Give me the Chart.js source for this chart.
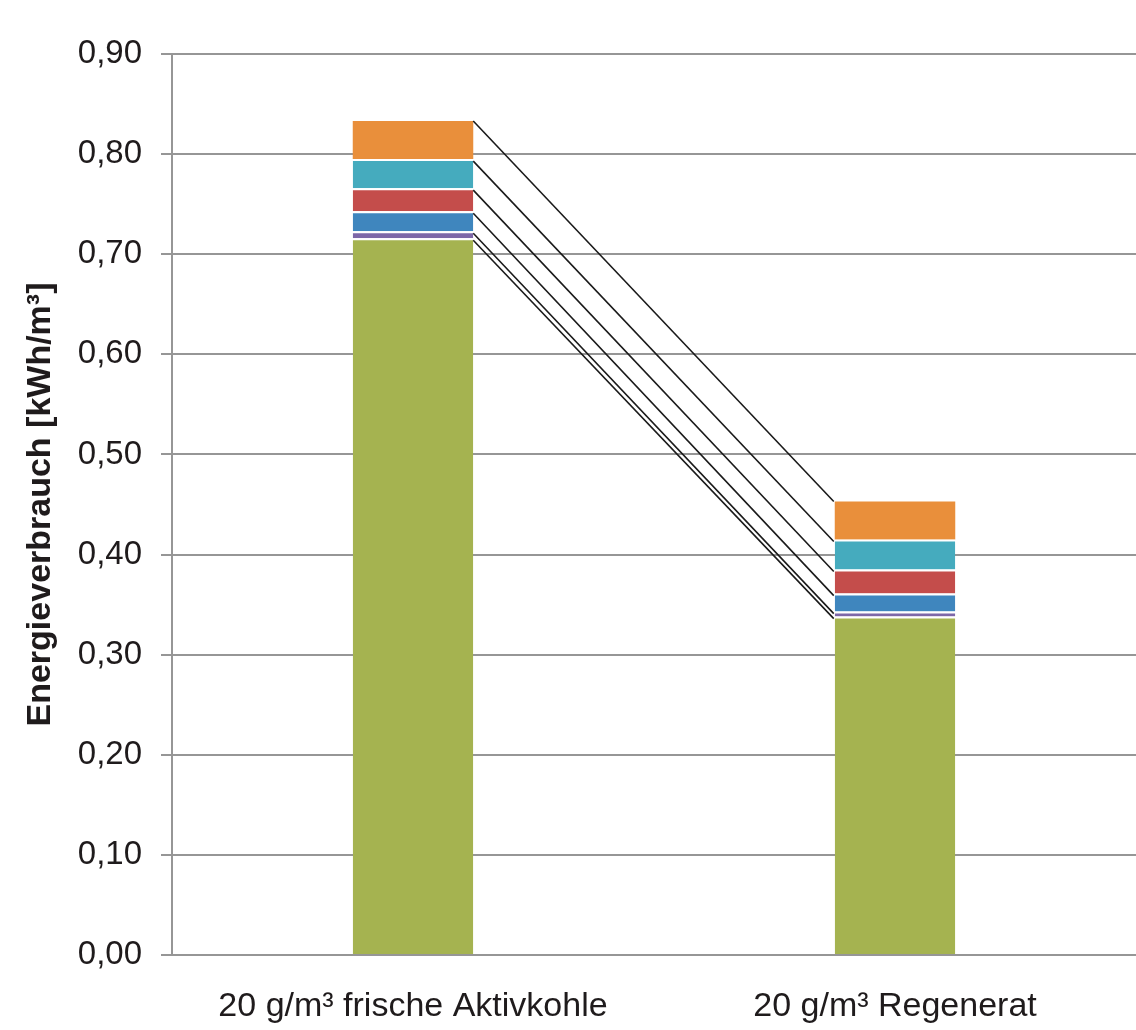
<!DOCTYPE html>
<html>
<head>
<meta charset="utf-8">
<script src="https://cdn.jsdelivr.net/npm/chart.js@4"></script>
<style>
    html, body { margin: 0; padding: 0; background: #fff; }
    #wrap { width: 1136px; height: 1030px; position: relative; }
</style>
</head>
<body>
<div id="wrap"><canvas id="chart"></canvas></div>
<script>
const categories = ['20 g/m³ frische Aktivkohle', '20 g/m³ Regenerat'];

// stacked parts, bottom to top
const partGreen  = [0.716, 0.338];
const partPurple = [0.007, 0.005];
const partBlue   = [0.020, 0.018];
const partRed    = [0.023, 0.024];
const partTeal   = [0.029, 0.030];
const partOrange = [0.038, 0.038];

const yTicks = [0, 0.1, 0.2, 0.3, 0.4, 0.5, 0.6, 0.7, 0.8, 0.9];

const textColor = '#1f1b1c';
const gridColor = '#969696';

const seg = (label, data, color, top) => ({
    label: label,
    data: data,
    backgroundColor: color,
    borderColor: '#ffffff',
    borderWidth: { top: top, bottom: 0, left: 0, right: 0 },
    borderSkipped: false,
    categoryPercentage: 0.25,
    barPercentage: 1
});

// thin black lines joining the segment tops of both bars
const connectLines = {
    id: 'connectLines',
    afterDatasetsDraw(chart) {
        const ctx = chart.ctx;
        ctx.save();
        ctx.strokeStyle = '#1a1a1a';
        ctx.lineWidth = 1.6;
        chart.data.datasets.forEach((ds, i) => {
            const meta = chart.getDatasetMeta(i);
            const a = meta.data[0], b = meta.data[1];
            const off = ds.borderWidth.top;
            ctx.beginPath();
            ctx.moveTo(a.x + a.width / 2, a.y + off);
            ctx.lineTo(b.x - b.width / 2 - 1, b.y + off);
            ctx.stroke();
        });
        ctx.restore();
    }
};

new Chart(document.getElementById('chart'), {
    type: 'bar',
    data: {
        labels: categories,
        datasets: [
            seg('Anteil 1', partGreen, '#a5b350', 2),
            seg('Anteil 2', partPurple, '#7d67a8', 2),
            seg('Anteil 3', partBlue, '#3f86be', 2),
            seg('Anteil 4', partRed, '#c44d4b', 2),
            seg('Anteil 5', partTeal, '#45abbe', 2),
            seg('Anteil 6', partOrange, '#e98f3b', 0)
        ]
    },
    plugins: [connectLines],
    options: {
        responsive: true,
        maintainAspectRatio: false,
        animation: false,
        layout: { autoPadding: false, padding: { top: 54, right: 0, left: 0, bottom: 0 } },
        plugins: {
            legend: { display: false },
            tooltip: { enabled: false }
        },
        scales: {
            x: {
                stacked: true,
                grid: { display: false, drawTicks: false },
                border: { display: false },
                ticks: {
                    color: textColor,
                    padding: 31,
                    maxRotation: 0,
                    font: { family: 'Liberation Sans, Arial, sans-serif', size: 34 }
                },
                afterFit: s => { s.height = 75; }
            },
            y: {
                stacked: true,
                min: 0,
                max: 0.9,
                afterBuildTicks: s => { s.ticks = yTicks.map(v => ({ value: v })); },
                grid: { color: gridColor, lineWidth: 2, tickLength: 11 },
                border: { color: gridColor, width: 2 },
                ticks: {
                    color: textColor,
                    padding: 19,
                    font: { family: 'Liberation Sans, Arial, sans-serif', size: 33 },
                    callback: v => v.toFixed(2).replace('.', ',')
                },
                title: {
                    display: true,
                    text: 'Energieverbrauch [kWh/m³]',
                    color: textColor,
                    padding: { top: 20, bottom: 0 },
                    font: { family: 'Liberation Sans, Arial, sans-serif', size: 34, weight: 'bold' }
                },
                afterFit: s => { s.width = 172; }
            }
        }
    }
});
</script>
</body>
</html>
